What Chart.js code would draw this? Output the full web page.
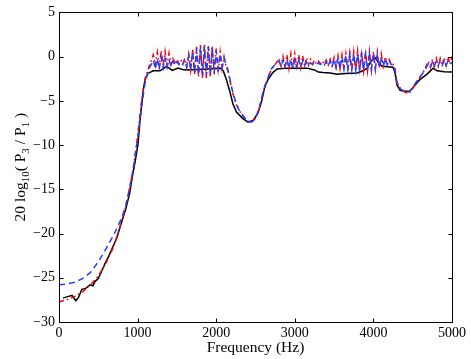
<!DOCTYPE html>
<html>
<head>
<meta charset="utf-8">
<script src="https://cdn.jsdelivr.net/npm/chart.js@4/dist/chart.umd.min.js"></script>
<style>
  html, body { margin: 0; padding: 0; background: #fff; }
</style>
</head>
<body>
<canvas id="myChart" width="471" height="359"></canvas>
<script>
// black solid curve (own frequency grid)
var blackFreq = [
  50, 120, 165, 215, 250, 290, 340, 395, 430, 460, 500, 545, 585, 625, 680, 735,
  800, 850, 900, 930, 970, 1005, 1030, 1055, 1075, 1095, 1130, 1200, 1285, 1370,
  1440, 1515, 1570, 1630, 1755, 1900, 2050, 2090, 2130, 2175, 2215, 2260, 2340,
  2405, 2470, 2530, 2580, 2620, 2660, 2720, 2775, 2900, 3050, 3155, 3250, 3300,
  3360, 3450, 3535, 3650, 3790, 3870, 3920, 3970, 4020, 4060, 4110, 4250, 4275,
  4300, 4340, 4400, 4465, 4530, 4590, 4680, 4760, 4810, 4900, 5000
];
var blackDb = [
  -27.3, -27.1, -27.0, -27.6, -27.2, -26.3, -26.2, -25.8, -25.9, -25.4, -25.1, -24.2, -23.4, -22.7, -21.6, -20.5,
  -18.6, -17.2, -15.4, -13.7, -11.8, -9.9, -7.3, -5.2, -3.6, -2.6, -1.9, -1.6, -1.6, -1.1,
  -1.55, -1.3, -1.45, -1.5, -1.45, -1.4, -1.3, -1.6, -2.6, -4.0, -5.4, -6.3, -7.0,
  -7.4, -7.2, -6.4, -5.0, -3.3, -2.6, -1.8, -1.4, -1.3, -1.3, -1.3, -1.5, -1.75,
  -1.8, -1.85, -2.0, -1.9, -1.85, -1.6, -1.3, -0.5, -0.1, -0.6, -1.1, -1.2, -1.8,
  -3.2, -3.8, -3.9, -3.9, -3.2, -2.6, -2.0, -1.3, -1.6, -1.7, -1.75
];

// red dash-dot and blue dashed curves share this grid
var freq = [
  0, 100, 200, 300, 400, 500, 600, 700, 800, 850, 900, 950, 1000, 1050, 1100, 1150,
  1200, 1225, 1250, 1275, 1300, 1325, 1350, 1375, 1400, 1425, 1450, 1475, 1500, 1525, 1550, 1575, 1600, 1625, 1650,
  1675, 1700, 1725, 1750, 1775, 1800, 1825, 1850, 1875, 1900, 1925, 1950, 1975, 2000, 2025, 2050, 2075, 2100, 2125,
  2150, 2200, 2250, 2300, 2350, 2400, 2450, 2500, 2550, 2600, 2650, 2700, 2750,
  2800, 2825, 2850, 2875, 2900, 2925, 2950, 2975, 3000, 3025, 3050, 3075, 3100, 3125, 3150, 3175, 3200, 3225, 3250,
  3275, 3300, 3325, 3350, 3375, 3400, 3425, 3450, 3475, 3500, 3525, 3550, 3575, 3600, 3625, 3650, 3675, 3700, 3725,
  3750, 3775, 3800, 3825, 3850, 3875, 3900, 3925, 3950, 3975, 4000, 4025, 4050, 4075, 4100, 4125, 4150, 4175, 4200, 4225,
  4250, 4275, 4300, 4350, 4400, 4450, 4500, 4550, 4600, 4650,
  4700, 4725, 4750, 4775, 4800, 4825, 4850, 4875, 4900, 4925, 4950, 4975, 5000
];
var redDb = [
  -27.7, -27.5, -27.1, -26.6, -25.8, -24.8, -23.3, -21.4, -18.5, -16.9, -14.8, -12.3, -9.0, -5.0, -2.3, -1.0,
  0.2, -1.0, 0.5, -1.1, 0.7, -1.1, 0.6, -1.0, 0.4, -0.9, 0.0, -0.9, -0.3, -0.8, -0.4, -0.8, -0.2, -1.1, 0.3,
  -1.5, 0.8, -2.0, 1.1, -2.3, 1.3, -2.5, 1.4, -2.4, 1.3, -2.3, 1.2, -2.0, 0.9, -1.7, 0.5, -1.4, 0.0, -1.1,
  -1.6, -3.8, -5.3, -6.2, -6.8, -7.3, -7.4, -7.0, -5.8, -4.0, -2.6, -1.5, -0.9,
  -0.2, -1.1, 0.0, -1.25, 0.2, -1.35, 0.3, -1.4, 0.3, -1.35, 0.2, -1.25, 0.1, -1.1, -0.1, -0.95, -0.3, -0.85, -0.4,
  -0.8, -0.5, -0.8, -0.5, -0.85, -0.4, -0.95, -0.3, -1.05, -0.1, -1.2, 0.1, -1.35, 0.2, -1.45, 0.3, -1.55, 0.4, -1.6,
  0.5, -1.6, 0.6, -1.6, 0.6, -1.6, 0.6, -1.6, 0.6, -1.55, 0.6, -1.45, 0.5, -1.3, 0.3, -1.1, 0.0, -0.95, -0.3, -0.85,
  -0.8, -1.4, -2.9, -3.7, -4.0, -4.2, -3.6, -2.9, -2.2, -1.5,
  -0.5, -1.2, -0.3, -1.1, -0.2, -1.1, -0.2, -1.0, -0.1, -1.0, 0.0, -0.9, 0.0
];
var blueDb = [
  -25.8, -25.7, -25.5, -25.1, -24.4, -23.2, -21.7, -20.1, -18.2, -16.8, -14.8, -12.4, -9.3, -5.6, -2.7, -1.3,
  -0.4, -1.4, -0.2, -1.4, -0.1, -1.3, -0.2, -1.2, -0.3, -1.1, -0.5, -1.0, -0.6, -0.9, -0.6, -0.9, -0.4, -1.2, 0.1,
  -1.5, 0.6, -1.8, 0.9, -2.0, 1.1, -2.1, 1.2, -2.1, 1.1, -2.0, 1.0, -1.8, 0.7, -1.5, 0.3, -1.2, -0.2, -0.9,
  -1.5, -3.6, -5.2, -6.2, -6.8, -7.3, -7.4, -7.0, -5.7, -3.9, -2.6, -1.4, -0.9,
  -0.5, -1.1, -0.4, -1.2, -0.3, -1.3, -0.3, -1.3, -0.3, -1.25, -0.4, -1.15, -0.5, -1.05, -0.6, -0.95, -0.7, -0.9, -0.7,
  -0.9, -0.7, -0.9, -0.7, -0.95, -0.6, -1.05, -0.5, -1.15, -0.3, -1.25, -0.1, -1.35, 0.0, -1.45, 0.1, -1.5, 0.2, -1.5,
  0.3, -1.5, 0.3, -1.5, 0.3, -1.5, 0.3, -1.5, 0.3, -1.45, 0.3, -1.35, 0.2, -1.25, 0.0, -1.1, -0.2, -0.95, -0.4, -0.9,
  -0.9, -1.5, -3.0, -3.7, -3.9, -4.0, -3.5, -2.8, -2.2, -1.6,
  -0.8, -1.2, -0.6, -1.1, -0.5, -1.0, -0.5, -1.0, -0.5, -1.0, -0.5, -0.9, -0.6
];

var xMin = 0, xMax = 5000, xStep = 1000;
var yMin = -30, yMax = 5, yStep = 5;

var serif = '"Liberation Serif", "Times New Roman", serif';

function pairs(xs, ys) {
  return xs.map(function (x, i) { return { x: x, y: ys[i] }; });
}

// box around the plot with inward ticks on all four sides
var framePlugin = {
  id: "frame",
  afterDatasetsDraw: function (chart) {
    var ctx = chart.ctx, a = chart.chartArea;
    var xs = chart.scales.x, ys = chart.scales.y;
    var L = Math.round(a.left) + 0.5, R = Math.round(a.right) + 0.5;
    var T = Math.round(a.top) + 0.5, B = Math.round(a.bottom) + 0.5;
    ctx.save();
    ctx.strokeStyle = "#000";
    ctx.lineWidth = 1;
    ctx.beginPath();
    ctx.rect(L, T, R - L, B - T);
    xs.ticks.forEach(function (t) {
      var p = Math.round(xs.getPixelForValue(t.value)) + 0.5;
      ctx.moveTo(p, B); ctx.lineTo(p, B - 4);
      ctx.moveTo(p, T); ctx.lineTo(p, T + 4);
    });
    ys.ticks.forEach(function (t) {
      var p = Math.round(ys.getPixelForValue(t.value)) + 0.5;
      ctx.moveTo(L, p); ctx.lineTo(L + 4, p);
      ctx.moveTo(R, p); ctx.lineTo(R - 4, p);
    });
    ctx.stroke();
    ctx.restore();
  }
};

// y label with subscripts: 20 log10( P3 / P1 )
var yLabelPlugin = {
  id: "ylabel",
  afterDraw: function (chart) {
    var ctx = chart.ctx, a = chart.chartArea;
    var parts = [
      ["20 log", 0], ["10", 1], ["( P", 0], ["3", 1], [" / P", 0], ["1", 1], [" )", 0]
    ];
    var big = "15.5px " + serif, small = "11px " + serif;
    ctx.save();
    var w = 0;
    parts.forEach(function (p) {
      ctx.font = p[1] ? small : big;
      w += ctx.measureText(p[0]).width;
    });
    ctx.translate(25, (a.top + a.bottom) / 2);
    ctx.rotate(-Math.PI / 2);
    ctx.fillStyle = "#000";
    ctx.textBaseline = "alphabetic";
    var x = -w / 2;
    parts.forEach(function (p) {
      ctx.font = p[1] ? small : big;
      ctx.fillText(p[0], x, p[1] ? 4 : 0);
      x += ctx.measureText(p[0]).width;
    });
    ctx.restore();
  }
};

var ctx = document.getElementById("myChart").getContext("2d");
var myChart = new Chart(ctx, {
  type: "line",
  data: {
    datasets: [
      {
        data: pairs(freq, blueDb),
        borderColor: "#2040ff",
        borderWidth: 1.5,
        borderDash: [6, 4],
        order: 1
      },
      {
        data: pairs(freq, redDb),
        borderColor: "#ff0000",
        borderWidth: 1.5,
        borderDash: [5, 3, 1.5, 3],
        order: 2
      },
      {
        data: pairs(blackFreq, blackDb),
        borderColor: "#000000",
        borderWidth: 1.5,
        order: 3
      }
    ]
  },
  options: {
    responsive: false,
    animation: false,
    devicePixelRatio: 1,
    layout: { padding: { left: 0, right: 19, top: 11, bottom: 0 } },
    elements: { point: { radius: 0 }, line: { tension: 0, fill: false } },
    plugins: { legend: { display: false }, tooltip: { enabled: false } },
    scales: {
      x: {
        type: "linear",
        min: xMin,
        max: xMax,
        grid: { display: false, drawTicks: false },
        border: { display: false },
        ticks: {
          stepSize: xStep,
          padding: 3,
          color: "#000",
          maxRotation: 0,
          font: { family: serif, size: 14 },
          callback: function (v) { return String(v); }
        },
        title: {
          display: true,
          text: "Frequency (Hz)",
          color: "#000",
          padding: { top: 0, bottom: 2 },
          font: { family: serif, size: 15.5 }
        },
        afterFit: function (s) { s.height = 37; }
      },
      y: {
        type: "linear",
        min: yMin,
        max: yMax,
        grid: { display: false, drawTicks: false },
        border: { display: false },
        ticks: {
          stepSize: yStep,
          padding: 4,
          color: "#000",
          font: { family: serif, size: 14 },
          callback: function (v) { return String(v).replace("-", "\u2212"); }
        },
        afterFit: function (s) { s.width = 59; }
      }
    }
  },
  plugins: [framePlugin, yLabelPlugin]
});
</script>
</body>
</html>
